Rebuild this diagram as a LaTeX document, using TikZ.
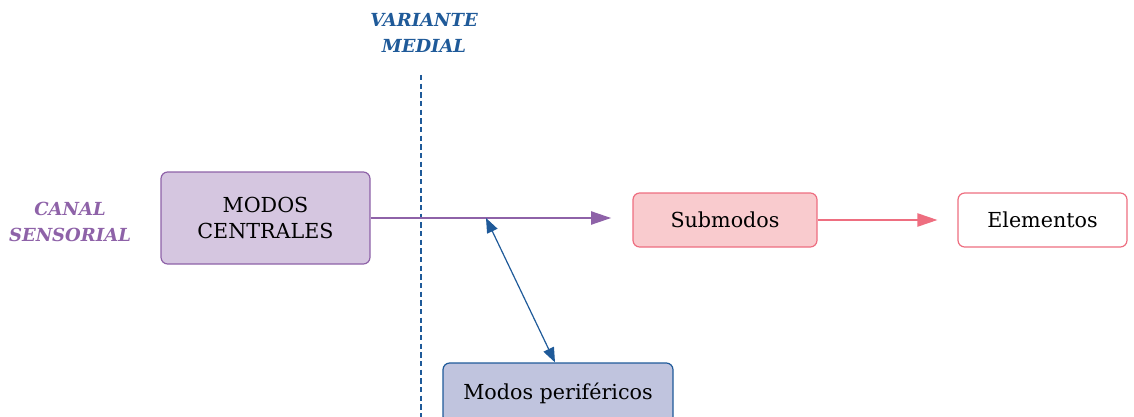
\documentclass[tikz,border=0pt]{standalone}
\usepackage{fontspec}
\setmainfont{DejaVu Serif}
\usetikzlibrary{arrows.meta}

\definecolor{morado}{RGB}{142,98,168}
\definecolor{moradoclaro}{RGB}{213,198,224}
\definecolor{rosa}{RGB}{238,110,128}
\definecolor{rosaclaro}{RGB}{249,203,206}
\definecolor{azul}{RGB}{31,90,153}
\definecolor{azulclaro}{RGB}{192,196,222}

\tikzset{
  caja/.style={draw, rounded corners=5, line width=0.9pt, inner sep=0pt, align=center,
    font=\fontsize{15.5}{19.5}\selectfont, text=black},
  rotulo/.style={font=\fontsize{13.5}{19}\selectfont\bfseries\itshape, align=center, inner sep=0pt},
}

\begin{document}
\begin{tikzpicture}[x=0.75pt,y=0.75pt,yscale=-1,xscale=1]
        \clip (0,0) rectangle (1134,417);
        \useasboundingbox (0,0) rectangle (1134,417);

        % Text Node
        \node (medial) [rotulo, text=azul] at (424,33) {VARIANTE\\MEDIAL};
        % Text Node
        \node (canal) [rotulo, text=morado] at (70,222) {CANAL\\SENSORIAL};

        %Dashed line
        \coordinate (arriba) at (421,75);
        \coordinate (abajo) at (421,420);
        \draw [azul, dash pattern=on 4pt off 2.5pt, line width=0.8pt] (arriba) -- (abajo);

        %Boxes
        \node (centrales) [caja, draw=morado, fill=moradoclaro, minimum width=156.75pt, minimum height=69pt] at (265.5,218) {MODOS\\CENTRALES};
        \node (submodos) [caja, draw=rosa, fill=rosaclaro, minimum width=138pt, minimum height=40.5pt] at (725,220) {Submodos};
        \node (elementos) [caja, draw=rosa, fill=white, minimum width=126.75pt, minimum height=40.5pt] at (1042.5,220) {Elementos};
        \node (perifericos) [caja, draw=azul, fill=azulclaro, minimum width=172.5pt, minimum height=45pt] at (558,393) {Modos perif\'ericos};

        %Arrows
        \coordinate (cruce) at (486,218);
        \draw [morado, line width=0.9pt, -{Triangle[length=15pt,width=10pt]}] (centrales.east |- 0,218) -- ([xshift=-16pt]submodos.west |- 0,218);
        \draw [rosa, line width=0.9pt, -{Triangle[length=15pt,width=10pt]}] (submodos.east) -- ([xshift=-15pt]elementos.west);
        \draw [azul, line width=0.9pt, {Triangle[length=11pt,width=8.5pt]}-{Triangle[length=11pt,width=8.5pt]}] (cruce) -- (perifericos.north -| 555,0);

    \end{tikzpicture}
\end{document}
